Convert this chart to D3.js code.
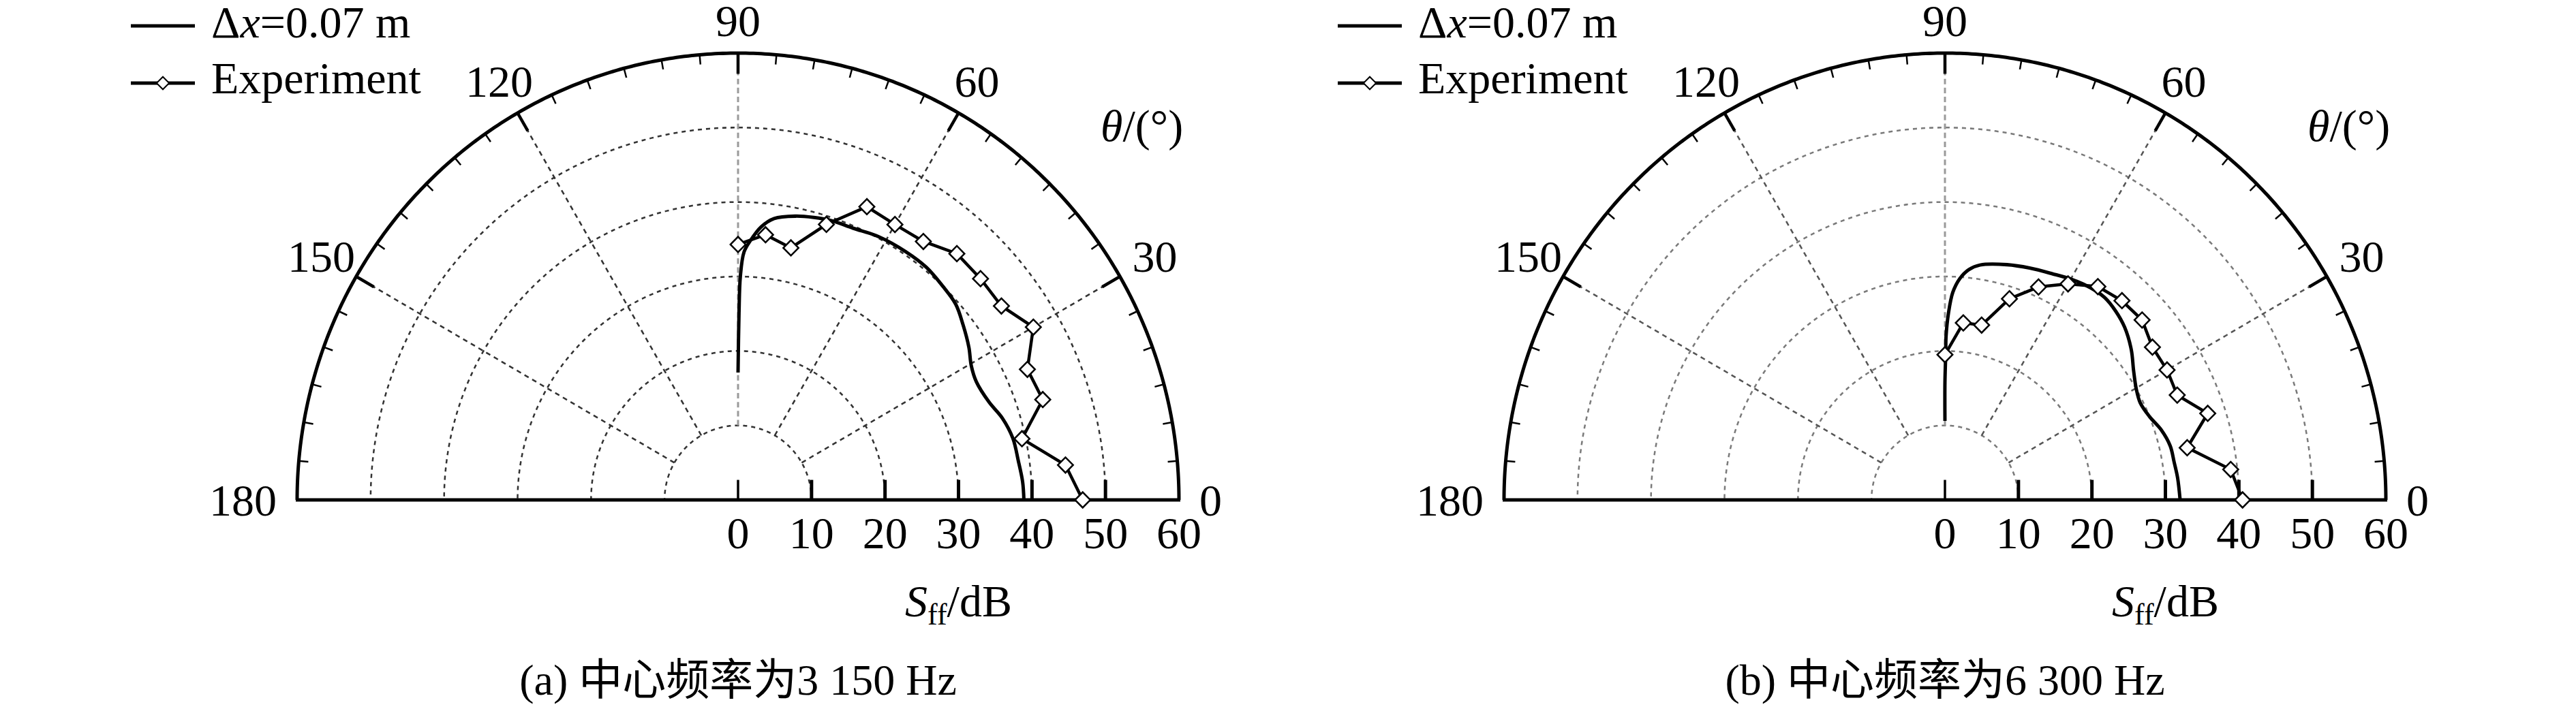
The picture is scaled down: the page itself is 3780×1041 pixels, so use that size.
<!DOCTYPE html>
<html>
<head>
<meta charset="utf-8">
<script src="https://cdn.jsdelivr.net/npm/d3@7"></script>
<style>
  html, body { margin: 0; padding: 0; background: #fff; }
  svg text { font-family: 'Liberation Serif', 'Times New Roman', 'Noto Sans CJK SC', serif; fill: #000; }
</style>
</head>
<body>
<div id="chart"></div>
<script>
// angles and radial ticks
var angleTicks = [0, 30, 60, 90, 120, 150, 180];
var radialTicks = [0, 10, 20, 30, 40, 50, 60];
var gridRings = [10, 20, 30, 40, 50];
var gridSpokes = [30, 60, 90, 120, 150];

// experiment: every 6 deg from 90 down to 0
var expAngles = [90, 84, 78, 72, 66, 60, 54, 48, 42, 36, 30, 24, 18, 12, 6, 0];
var expA = [34.3, 35.8, 34.6, 38.9, 43.1, 42.7, 42.9, 44.5, 44.4, 44.3, 46.4, 43.1, 43.6, 39.5, 44.8, 46.9];
var expB = [19.5, 23.9, 24.0, 28.4, 31.3, 33.5, 35.4, 36.0, 36.1, 34.9, 34.9, 34.6, 37.6, 33.7, 39.1, 40.5];

// simulation, dx = 0.07 m
var simAAngles = [90, 89.7, 89.4, 88.6, 87.2, 85.1, 82.6, 78.4, 74.8, 71.2, 66.8, 61.5, 55.6, 50.6, 45.9, 41.6, 37.5, 33.1, 29.6, 26.1, 21.0, 17.0, 12.5, 7.8, 3.6, 0];
var simAValues = [17.1, 25.1, 30.0, 33.3, 34.9, 36.8, 38.1, 38.9, 39.3, 39.6, 39.7, 40.2, 40.4, 40.4, 40.0, 39.6, 38.6, 37.5, 36.5, 36.1, 36.6, 37.6, 38.3, 38.5, 38.8, 38.9];
var simBAngles = [90, 90, 89.7, 89.6, 88.9, 87.8, 86.1, 84.0, 81.4, 75.0, 69.7, 64.3, 59.5, 55.2, 51.4, 47.6, 43.5, 38.5, 34.1, 29.8, 26.2, 21.9, 17.7, 13.3, 9.2, 5.3, 0];
var simBValues = [10.6, 15.8, 19.5, 22.0, 25.1, 27.9, 29.8, 31.1, 31.9, 32.7, 33.2, 33.7, 34.3, 34.7, 34.8, 34.4, 33.7, 32.4, 31.0, 30.0, 29.6, 30.0, 30.9, 31.5, 31.6, 31.8, 32.0];

var legendLabels = ['\u0394x=0.07 m', 'Experiment'];
var captions = ['(a) 中心频率为3 150 Hz', '(b) 中心频率为6 300 Hz'];

var width = 3780, height = 1041;
var R = 647;
var ky = 1.014;   // picture is a touch taller than wide
var fontSize = 66;

var radius = d3.scaleLinear().domain([0, 60]).range([0, R]);
var angle = d3.scaleLinear().domain([0, 180]).range([Math.PI / 2, -Math.PI / 2]);

var svg = d3.select('#chart').append('svg')
    .attr('width', width)
    .attr('height', height);

svg.append('rect').attr('width', width).attr('height', height).attr('fill', '#fff');

function zip(a, b) {
    return a.map(function (t, i) { return { theta: t, value: b[i] }; });
}

var ringLine = d3.lineRadial()
    .angle(function (t) { return angle(t); });

var curveLine = d3.lineRadial()
    .angle(function (d) { return angle(d.theta); })
    .radius(function (d) { return radius(d.value); })
    .curve(d3.curveCatmullRom.alpha(0.5));

var expLine = d3.lineRadial()
    .angle(function (d) { return angle(d.theta); })
    .radius(function (d) { return radius(d.value); });

function drawPanel(cx, cy, sim, exp, caption, gridColor) {
    var g = svg.append('g').attr('transform', 'translate(' + cx + ',' + cy + ')');
    var plot = g.append('g').attr('transform', 'scale(1,' + ky + ')');
    var arcAngles = d3.range(0, 180.25, 0.5);

    // rings
    plot.selectAll('.ring').data(gridRings).enter().append('path')
        .attr('fill', 'none')
        .attr('stroke', gridColor.ring)
        .attr('stroke-width', 2.5)
        .attr('stroke-dasharray', '6,6')
        .attr('d', function (v) { return ringLine.radius(radius(v))(arcAngles); });

    // spokes from the 10 dB ring out to the rim
    plot.selectAll('.spoke').data(gridSpokes).enter().append('line')
        .attr('stroke', function (t) { return t === 90 ? '#9a9a9a' : gridColor.spoke; })
        .attr('stroke-width', function (t) { return t === 90 ? 3 : 2.5; })
        .attr('stroke-dasharray', function (t) { return t === 90 ? '8,5' : '7,6'; })
        .attr('x1', function (t) { return d3.pointRadial(angle(t), radius(10))[0]; })
        .attr('y1', function (t) { return d3.pointRadial(angle(t), radius(10))[1]; })
        .attr('x2', function (t) { return d3.pointRadial(angle(t), R)[0]; })
        .attr('y2', function (t) { return d3.pointRadial(angle(t), R)[1]; });

    // rim and its ticks
    plot.append('path')
        .attr('fill', 'none')
        .attr('stroke', '#000')
        .attr('stroke-width', 5)
        .attr('d', ringLine.radius(R)(arcAngles));

    var rimTicks = d3.range(5, 180, 5);
    plot.selectAll('.rimtick').data(rimTicks).enter().append('line')
        .attr('stroke', '#000')
        .attr('stroke-width', function (t) { return t % 30 === 0 ? 4.5 : 2.5; })
        .attr('x1', function (t) { return d3.pointRadial(angle(t), R)[0]; })
        .attr('y1', function (t) { return d3.pointRadial(angle(t), R)[1]; })
        .attr('x2', function (t) { return d3.pointRadial(angle(t), R - (t % 30 === 0 ? 30 : 14))[0]; })
        .attr('y2', function (t) { return d3.pointRadial(angle(t), R - (t % 30 === 0 ? 30 : 14))[1]; });

    // base line with radial ticks
    plot.append('line')
        .attr('stroke', '#000')
        .attr('stroke-width', 5)
        .attr('x1', -R - 2).attr('x2', R + 2)
        .attr('y1', 0).attr('y2', 0);

    plot.selectAll('.basetick').data(radialTicks.slice(0, -1)).enter().append('line')
        .attr('stroke', '#000')
        .attr('stroke-width', function (v) { return v === 0 ? 3.5 : 5; })
        .attr('x1', function (v) { return radius(v); })
        .attr('x2', function (v) { return radius(v); })
        .attr('y1', 0).attr('y2', -29);

    // simulation
    plot.append('path')
        .attr('fill', 'none')
        .attr('stroke', '#000')
        .attr('stroke-width', 5)
        .attr('stroke-linejoin', 'round')
        .attr('d', curveLine(sim));

    // experiment
    plot.append('path')
        .attr('fill', 'none')
        .attr('stroke', '#000')
        .attr('stroke-width', 4.5)
        .attr('d', expLine(exp));

    var diamond = d3.symbol().type(d3.symbolSquare).size(250);
    plot.selectAll('.pt').data(exp).enter().append('path')
        .attr('d', diamond)
        .attr('fill', '#fff')
        .attr('stroke', '#000')
        .attr('stroke-width', 2.5)
        .attr('transform', function (d) {
            var p = d3.pointRadial(angle(d.theta), radius(d.value));
            return 'translate(' + p[0] + ',' + p[1] + ') rotate(45)';
        });

    // angle labels
    g.selectAll('.alabel').data(angleTicks).enter().append('text')
        .attr('font-size', fontSize)
        .attr('dy', '0.35em')
        .attr('text-anchor', function (t) { return t === 0 ? 'start' : (t === 180 ? 'end' : 'middle'); })
        .attr('x', function (t) {
            if (t === 0) return R + 30;
            if (t === 180) return -R - 30;
            return d3.pointRadial(angle(t), R + 47 + 14 * Math.abs(Math.cos(t * Math.PI / 180)))[0];
        })
        .attr('y', function (t) {
            if (t === 0 || t === 180) return 0;
            return ky * d3.pointRadial(angle(t), R + 47 + 14 * Math.abs(Math.cos(t * Math.PI / 180)))[1];
        })
        .text(function (t) { return t; });

    // radial labels
    g.selectAll('.rlabel').data(radialTicks).enter().append('text')
        .attr('font-size', fontSize)
        .attr('text-anchor', 'middle')
        .attr('x', function (v) { return radius(v); })
        .attr('y', 71)
        .text(function (v) { return v; });

    var sLabel = g.append('text')
        .attr('font-size', fontSize)
        .attr('text-anchor', 'middle')
        .attr('x', radius(30))
        .attr('y', 171);
    sLabel.append('tspan').attr('font-style', 'italic').text('S');
    sLabel.append('tspan').attr('font-size', 44).attr('dy', 12).text('ff');
    sLabel.append('tspan').attr('dy', -12).text('/dB');

    var tLabel = g.append('text')
        .attr('font-size', fontSize)
        .attr('x', 532)
        .attr('y', -527);
    tLabel.append('tspan').attr('font-style', 'italic').text('\u03b8');
    tLabel.append('tspan').text('/(\u00b0)');

    // legend
    var legend = g.append('g').attr('transform', 'translate(-891,-696)');
    legend.append('line')
        .attr('x1', 0).attr('x2', 94).attr('y1', 0).attr('y2', 0)
        .attr('stroke', '#000').attr('stroke-width', 5);
    legend.append('line')
        .attr('x1', 0).attr('x2', 94).attr('y1', 84).attr('y2', 84)
        .attr('stroke', '#000').attr('stroke-width', 5);
    legend.append('path')
        .attr('d', d3.symbol().type(d3.symbolSquare).size(170))
        .attr('fill', '#fff').attr('stroke', '#000').attr('stroke-width', 2)
        .attr('transform', 'translate(47,84) rotate(45)');
    var l1 = legend.append('text').attr('font-size', fontSize).attr('x', 118).attr('y', 17);
    l1.append('tspan').text('\u0394');
    l1.append('tspan').attr('font-style', 'italic').text('x');
    l1.append('tspan').text(legendLabels[0].slice(2));
    legend.append('text').attr('font-size', fontSize).attr('x', 118).attr('y', 99).text(legendLabels[1]);

    // caption
    g.append('text')
        .attr('font-size', 64)
        .attr('text-anchor', 'middle')
        .attr('x', 0)
        .attr('y', 286)
        .text(caption);
}

drawPanel(1083, 734, zip(simAAngles, simAValues), zip(expAngles, expA), captions[0], { ring: '#333', spoke: '#333' });
drawPanel(2854, 734, zip(simBAngles, simBValues), zip(expAngles, expB), captions[1], { ring: '#7a7a7a', spoke: '#555' });
</script>
</body>
</html>
